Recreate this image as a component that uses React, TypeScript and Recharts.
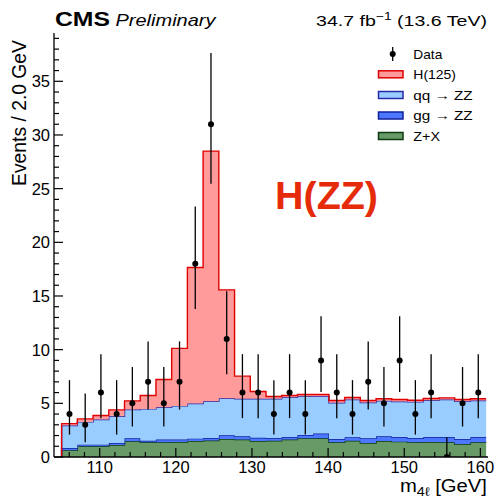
import React from 'react';
import { ComposedChart, Area, Scatter, ErrorBar, XAxis, YAxis } from 'recharts';

// stacked expectations per bin (events / bin), bottom to top
const ZX = [0.62, 0.99, 0.99, 1.12, 1.46, 1.37, 1.37, 1.40, 1.49, 1.53, 1.68, 1.62, 1.49, 1.52, 1.62, 1.74, 1.74, 1.37, 1.52, 1.30, 1.49, 1.43, 1.37, 1.40, 1.37, 1.21, 1.37];
const GGZZ = [0.22, 0.16, 0.16, 0.19, 0.28, 0.15, 0.25, 0.22, 0.22, 0.24, 0.34, 0.31, 0.31, 0.25, 0.25, 0.31, 0.44, 0.31, 0.31, 0.44, 0.44, 0.44, 0.40, 0.47, 0.50, 0.47, 0.50];
const QQZZ = [2.09, 2.12, 2.34, 2.49, 2.68, 2.96, 3.02, 3.14, 3.27, 3.43, 3.46, 3.49, 3.62, 3.65, 3.70, 3.61, 3.48, 3.37, 3.53, 3.34, 3.30, 3.30, 3.37, 3.42, 3.49, 3.52, 3.39];
const H125 = [0.18, 0.28, 0.37, 0.59, 0.81, 1.25, 2.58, 5.36, 12.68, 23.30, 10.09, 2.11, 0.68, 0.22, 0.16, 0.16, 0.16, 0.21, 0.18, 0.18, 0.19, 0.19, 0.15, 0.16, 0.15, 0.16, 0.16];

// observed counts with 68% Poisson intervals
const DATA = [4, 3, 6, 4, 5, 7, 5, 7, 18, 31, 11, 6, 6, 4, 6, 4, 9, 6, 4, 7, 5, 9, 4, 6, 0, 5, 6];
const DATA_LO = [2.09, 1.37, 3.62, 2.09, 2.84, 4.42, 2.84, 4.42, 13.79, 25.45, 7.72, 3.62, 3.62, 2.09, 3.62, 2.09, 6.06, 3.62, 2.09, 4.42, 2.84, 6.06, 2.09, 3.62, 0, 2.84, 3.62];
const DATA_HI = [7.16, 5.92, 9.58, 7.16, 8.38, 10.77, 8.38, 10.77, 23.33, 37.64, 15.43, 9.58, 9.58, 7.16, 9.58, 7.16, 13.12, 9.58, 7.16, 10.77, 8.38, 13.12, 7.16, 9.58, 1.84, 8.38, 9.58];

const X_LABELS = [110, 120, 130, 140, 150, 160];
const Y_LABELS = [0, 5, 10, 15, 20, 25, 30, 35];

const BIN_START = 105;
const BIN_WIDTH = 2.065;
const X_DOMAIN: [number, number] = [104, 161];
const Y_DOMAIN: [number, number] = [0, 39.5];

const COLORS = {
  zx: { fill: '#679a67', stroke: '#0f3a0f' },
  gg: { fill: '#4b78ff', stroke: '#10209a' },
  qq: { fill: '#99ccff', stroke: '#2a2aa8' },
  h: { fill: '#ff9b9b', stroke: '#e00000' },
};

const FONT = '"Liberation Sans", Arial, Helvetica, sans-serif';

const NBINS = DATA.length;
const edges = Array.from({ length: NBINS + 1 }, (_, i) => BIN_START + i * BIN_WIDTH);
const rows = [
  { x: BIN_START, zx: 0, gg: 0, qq: 0, h: 0 },
  ...edges.map((e, i) => {
    const k = Math.min(i, NBINS - 1);
    return { x: e, zx: ZX[k], gg: GGZZ[k], qq: QQZZ[k], h: H125[k] };
  }),
];
const points = DATA.map((n, i) => ({
  x: edges[i] + BIN_WIDTH / 2,
  n,
  err: [n - DATA_LO[i], DATA_HI[i] - n],
}));

const xTicks = Array.from({ length: 28 }, (_, i) => 106 + 2 * i);
const yTicks = Array.from({ length: 40 }, (_, i) => i);

const axisLine = { stroke: '#000', strokeWidth: 1.3 };

const BottomTick = (p: any) => {
  const v = p.payload.value;
  const major = X_LABELS.includes(v);
  return (
    <g>
      <line x1={p.x} y1={p.y} x2={p.x} y2={p.y - (major ? 9 : 5)} stroke="#000" strokeWidth={1.2} />
      {major && (
        <text x={p.x} y={p.y + 15.5} textAnchor="middle" fontSize={16.5} fontFamily={FONT} fill="#000">
          {v}
        </text>
      )}
    </g>
  );
};

const TopTick = (p: any) => {
  const major = X_LABELS.includes(p.payload.value);
  return <line x1={p.x} y1={p.y} x2={p.x} y2={p.y + (major ? 9 : 5)} stroke="#000" strokeWidth={1.2} />;
};

const LeftTick = (p: any) => {
  const v = p.payload.value;
  const major = Y_LABELS.includes(v);
  return (
    <g>
      <line x1={p.x} y1={p.y} x2={p.x + (major ? 9 : 5)} y2={p.y} stroke="#000" strokeWidth={1.2} />
      {major && (
        <text x={p.x - 4} y={p.y} dy="0.36em" textAnchor="end" fontSize={16.5} fontFamily={FONT} fill="#000">
          {v}
        </text>
      )}
    </g>
  );
};

const RightTick = (p: any) => {
  const major = Y_LABELS.includes(p.payload.value);
  return <line x1={p.x} y1={p.y} x2={p.x - (major ? 9 : 5)} y2={p.y} stroke="#000" strokeWidth={1.2} />;
};

const legendRows = [
  { label: 'H(125)', c: COLORS.h, y: 74.3, len: 42.7 },
  { label: 'qq  \u2192  ZZ', c: COLORS.qq, y: 95, len: 59.3 },
  { label: 'gg  \u2192  ZZ', c: COLORS.gg, y: 115.5, len: 59.3 },
  { label: 'Z+X', c: COLORS.zx, y: 136, len: 26.7 },
];

const Overlay = () => (
  <svg width={496} height={498} style={{ position: 'absolute', left: 0, top: 0, pointerEvents: 'none' }} fontFamily={FONT}>
    <text x={55} y={25.5} fontSize={21} fontWeight="bold" textLength={55} lengthAdjust="spacingAndGlyphs">CMS</text>
    <text x={115.5} y={25.5} fontSize={17} fontStyle="italic" textLength={100} lengthAdjust="spacingAndGlyphs">Preliminary</text>
    <text x={316} y={25.5} fontSize={15.5} textLength={171} lengthAdjust="spacingAndGlyphs">
      34.7 fb<tspan fontSize={11} dy={-6}>{'\u22121'}</tspan>
      <tspan dy={6}> (13.6 TeV)</tspan>
    </text>
    <text
      x={0}
      y={0}
      fontSize={19.5}
      textAnchor="middle"
      textLength={146}
      lengthAdjust="spacingAndGlyphs"
      transform="translate(25.5,113) rotate(-90)"
    >
      Events / 2.0 GeV
    </text>
    <text x={400} y={492} fontSize={17.5} textLength={87} lengthAdjust="spacingAndGlyphs">
      m<tspan fontSize={12.5} dy={4}>{'4\u2113'}</tspan>
      <tspan dy={-4}> [GeV]</tspan>
    </text>
    <text x={275} y={208.5} fontSize={38.5} fontWeight="bold" fill="#e62b0a" textLength={103} lengthAdjust="spacingAndGlyphs">
      H(ZZ)
    </text>
    <line x1={392.7} y1={47} x2={392.7} y2={61} stroke="#000" strokeWidth={1.3} />
    <circle cx={392.7} cy={54} r={3} fill="#000" />
    <text x={413.3} y={58.5} fontSize={13} textLength={29} lengthAdjust="spacingAndGlyphs">Data</text>
    {legendRows.map((r) => (
      <g key={r.label}>
        <rect x={378.5} y={r.y - 3.5} width={24.5} height={7} fill={r.c.fill} stroke={r.c.stroke} strokeWidth={1.5} />
        <text x={413.3} y={r.y + 4.5} fontSize={13} textLength={r.len} lengthAdjust="spacingAndGlyphs">
          {r.label}
        </text>
      </g>
    ))}
  </svg>
);

const App: React.FC = () => (
  <div style={{ position: 'absolute', left: 0, top: 0, width: 496, height: 498, background: '#fff' }}>
    <ComposedChart width={496} height={498} data={rows} margin={{ top: 33, right: 8, bottom: 0, left: 0 }}>
      <XAxis
        xAxisId="x"
        dataKey="x"
        type="number"
        domain={X_DOMAIN}
        allowDataOverflow
        ticks={xTicks}
        interval={0}
        height={41}
        tickSize={0}
        tickMargin={0}
        tickLine={false}
        axisLine={axisLine}
        tick={(p: any) => <BottomTick {...p} />}
      />
      <XAxis
        xAxisId="top"
        orientation="top"
        dataKey="x"
        type="number"
        domain={X_DOMAIN}
        allowDataOverflow
        ticks={xTicks}
        interval={0}
        height={0}
        tickSize={0}
        tickMargin={0}
        tickLine={false}
        axisLine={axisLine}
        tick={(p: any) => <TopTick {...p} />}
      />
      <YAxis
        yAxisId="y"
        type="number"
        domain={Y_DOMAIN}
        allowDataOverflow
        ticks={yTicks}
        interval={0}
        width={54}
        tickSize={0}
        tickMargin={0}
        tickLine={false}
        axisLine={axisLine}
        tick={(p: any) => <LeftTick {...p} />}
      />
      <YAxis
        yAxisId="right"
        orientation="right"
        type="number"
        domain={Y_DOMAIN}
        allowDataOverflow
        ticks={yTicks}
        interval={0}
        width={0}
        tickSize={0}
        tickMargin={0}
        tickLine={false}
        axisLine={axisLine}
        tick={(p: any) => <RightTick {...p} />}
      />
      {(['zx', 'gg', 'qq', 'h'] as const).map((k) => (
        <Area
          key={k}
          xAxisId="x"
          yAxisId="y"
          type="stepAfter"
          dataKey={k}
          stackId="stack"
          fill={COLORS[k].fill}
          fillOpacity={1}
          stroke={COLORS[k].stroke}
          strokeWidth={1.4}
          dot={false}
          activeDot={false}
          isAnimationActive={false}
        />
      ))}
      <Scatter
        xAxisId="x"
        yAxisId="y"
        data={points}
        dataKey="n"
        isAnimationActive={false}
        shape={(p: any) => <circle cx={p.cx} cy={p.cy} r={3} fill="#000" />}
      >
        <ErrorBar dataKey="err" direction="y" width={0} stroke="#000" strokeWidth={1.3} isAnimationActive={false} />
      </Scatter>
    </ComposedChart>
    <Overlay />
  </div>
);

export default App;
